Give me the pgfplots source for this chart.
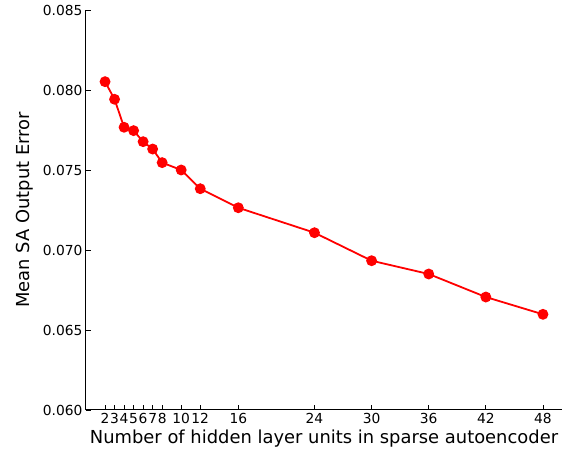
\documentclass[border=0pt]{standalone}
\usepackage{pgfplots}
\pgfplotsset{compat=1.18}
\usepackage{fontspec}
\setmainfont{DejaVu Sans}
\begin{document}
\begin{tikzpicture}
\begin{axis}[
  name=ax,
  scale only axis, width=476pt, height=400pt,
  xmin=0, xmax=50, ymin=0.060, ymax=0.085,
  axis x line*=bottom, axis y line*=left,
  axis line style={line width=1pt},
  tick align=inside,
  major tick length=5pt,
  tick style={black, line width=0.8pt},
  xtick={2,3,4,5,6,7,8,10,12,16,24,30,36,42,48},
  ytick={0.060,0.065,0.070,0.075,0.080,0.085},
  /pgf/number format/assume math mode=true,
  yticklabel style={/pgf/number format/.cd, fixed, fixed zerofill, precision=3},
  scaled y ticks=false,
  ticklabel style={font=\fontsize{13.8}{15}\selectfont},
  xticklabel style={inner xsep=0pt},
  xlabel={Number of hidden layer units in sparse autoencoder},
  ylabel={Mean SA Output Error},
  label style={font=\fontsize{17.9}{20}\selectfont},
  xlabel style={yshift=1pt},
  ylabel style={yshift=3pt},
]
\addplot[red, line width=1.8pt, mark=*, mark size=4.5pt, mark options={solid, fill=red, draw=red}]
coordinates {
(2,0.08052) (3,0.07942) (4,0.07767) (5,0.07746) (6,0.07677) (7,0.07631)
(8,0.07546) (10,0.07500) (12,0.07383) (16,0.07264) (24,0.07108)
(30,0.06933) (36,0.06850) (42,0.06706) (48,0.06598)
};
\end{axis}
\pgfresetboundingbox
\path (ax.south west) ++(-86pt,-44pt) coordinate (bl);
\path (ax.north east) ++(7pt,10pt) coordinate (tr);
\path[use as bounding box] (bl) rectangle (tr);
\end{tikzpicture}
\end{document}
